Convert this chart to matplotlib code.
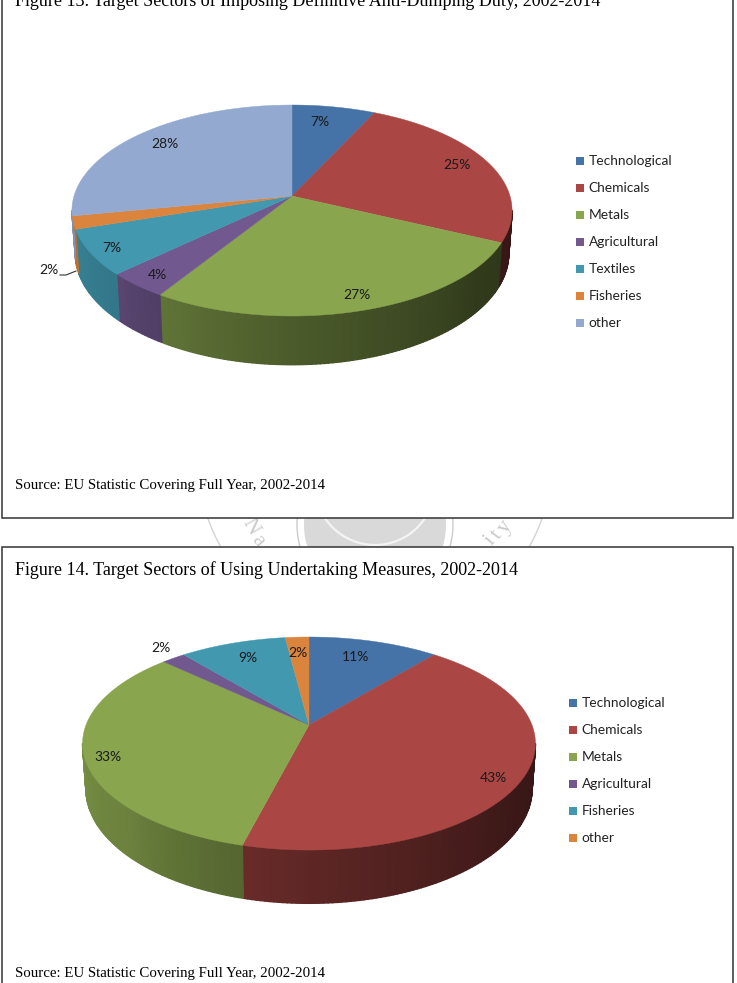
import numpy as np
import matplotlib
matplotlib.use('Agg')
import matplotlib.pyplot as plt
from matplotlib.patches import Rectangle, Polygon, Circle
from matplotlib.colors import to_rgb

# --- data ---
sectors_13 = ['Technological', 'Chemicals', 'Metals', 'Agricultural', 'Textiles', 'Fisheries', 'other']
values_13 = [7, 25, 27, 4, 7, 2, 28]
colors_13 = ['#4572A7', '#AA4643', '#89A54E', '#71588F', '#4198AF', '#DB843D', '#93A9CF']

sectors_14 = ['Technological', 'Chemicals', 'Metals', 'Agricultural', 'Fisheries', 'other']
values_14 = [11, 43, 33, 2, 9, 2]
colors_14 = ['#4572A7', '#AA4643', '#89A54E', '#71588F', '#4198AF', '#DB843D']

title_13 = 'Figure 13. Target Sectors of Imposing Definitive Anti-Dumping Duty, 2002-2014'
title_14 = 'Figure 14. Target Sectors of Using Undertaking Measures, 2002-2014'
source_text = 'Source: EU Statistic Covering Full Year, 2002-2014'

SERIF = 'Liberation Serif'
SANS = 'Lato'
W, H = 737, 983

fig = plt.figure(figsize=(W / 100, H / 100), dpi=100)
ax = fig.add_axes((0, 0, 1, 1))
ax.set_xlim(0, W)
ax.set_ylim(H, 0)
ax.axis('off')


def project(t, cx, cy, a, b, k, drop=0.0, narrow=1.0):
    # perspective view of a tilted disc, t clockwise from 12 o'clock
    s = 1.0 / (1.0 + k * np.cos(t))
    return cx + narrow * a * np.sin(t) * s, cy - b * np.cos(t) * s + drop * s


def wall_shade(t):
    # side wall gets darker toward the right hand side
    deg = np.degrees(t) % 360
    return np.interp(deg, [90, 130, 180, 212, 225, 270], [0.30, 0.36, 0.55, 0.70, 0.78, 0.88])


def draw_pie(values, colors, cx, cy, a, b, k, depth):
    cum = np.concatenate([[0], np.cumsum(values)]) / np.sum(values) * 2 * np.pi
    # the wall is only visible between the two tangent points of the disc
    t_right = np.arccos(-k)
    t_left = 2 * np.pi - t_right
    for i, col in enumerate(colors):
        lo, hi = max(cum[i], t_right), min(cum[i + 1], t_left)
        if hi <= lo:
            continue
        ts = np.linspace(lo, hi, max(2, int((hi - lo) * 60)))
        for t0, t1 in zip(ts[:-1], ts[1:]):
            x0, y0 = project(t0, cx, cy, a, b, k)
            x1, y1 = project(t1, cx, cy, a, b, k)
            x2, y2 = project(t1, cx, cy, a, b, k, depth, 0.985)
            x3, y3 = project(t0, cx, cy, a, b, k, depth, 0.985)
            shade = wall_shade((t0 + t1) / 2)
            c = tuple(v * shade for v in to_rgb(col))
            ax.add_patch(Polygon([(x0, y0), (x1, y1), (x2, y2), (x3, y3)],
                                 facecolor=c, edgecolor=c, linewidth=1.0, zorder=3))
    # top face
    for i, col in enumerate(colors):
        ts = np.linspace(cum[i], cum[i + 1], 80)
        x, y = project(ts, cx, cy, a, b, k)
        pts = np.column_stack([np.r_[cx, x], np.r_[cy, y]])
        ax.add_patch(Polygon(pts, facecolor=col, edgecolor=col, linewidth=0.3, zorder=4))


def draw_legend(names, colors, x, y, step):
    for i, (name, col) in enumerate(zip(names, colors)):
        yy = y + i * step
        ax.add_patch(Rectangle((x, yy - 4), 8, 8, facecolor=col, edgecolor='none', zorder=5))
        ax.text(x + 12.5, yy, name, family=SANS, fontsize=9.9, color='#222222',
                va='center', ha='left', zorder=5)


def pct(x, y, value):
    ax.text(x, y, f'{value}%', family=SANS, fontsize=10, color='#1a1a1a',
            ha='center', va='center', zorder=6)


# watermark seal showing in the gap between the two boxes
ax.add_patch(Circle((375, 460), 177, facecolor='none', edgecolor='#d4d4d4', linewidth=1.0, zorder=1))
ax.add_patch(Circle((375, 525), 78, facecolor='none', edgecolor='#cccccc', linewidth=1.0, zorder=1))
ax.add_patch(Circle((375, 525), 71, facecolor='#d9d9d9', edgecolor='none', zorder=1))
ax.add_patch(Circle((375, 485), 60, facecolor='#d9d9d9', edgecolor='#f4f4f4', linewidth=1.6, zorder=1))
for letter, x, y, rot in [('N', 250, 527, -60), ('a', 258, 541, -50),
                          ('i', 490, 541, 50), ('t', 497, 535, 52), ('y', 505, 527, 55)]:
    ax.text(x, y, letter, family=SERIF, fontsize=16, color='#cacaca', rotation=rot,
            ha='center', va='center', zorder=1)

# the two figure frames run off the page at top and bottom
for x0, y0, y1 in [(2.5, -20, 518), (2.5, 547, 1010)]:
    ax.add_patch(Rectangle((x0, y0), 730.5, y1 - y0, facecolor='white',
                           edgecolor='#333333', linewidth=1.1, zorder=2))

# Figure 13
ax.text(15, 6, title_13, family=SERIF, fontsize=13.0, color='black', va='baseline', zorder=6)
draw_pie(values_13, colors_13, 292, 196, 218, 103.5, 0.1375, 42)
for (x, y), v in zip([(320, 122), (457, 165), (357, 295), (157, 275),
                      (112, 248), (49, 270), (165, 144)], values_13):
    pct(x, y, v)
ax.plot([60, 66, 76], [275, 275, 271], color='#333333', linewidth=0.8, zorder=6)
draw_legend(sectors_13, colors_13, 576, 161, 27)
ax.text(15, 489, source_text, family=SERIF, fontsize=10.7, color='black', zorder=6)

# Figure 14
ax.text(15, 575, title_14, family=SERIF, fontsize=13.0, color='black', zorder=6)
draw_pie(values_14, colors_14, 309, 725, 223, 103.3, 0.174, 44)
for (x, y), v in zip([(356, 657), (493, 778), (108, 757), (161, 648),
                      (248, 658), (298, 653)], values_14):
    pct(x, y, v)
draw_legend(sectors_14, colors_14, 569, 703, 27)
ax.text(15, 977, source_text, family=SERIF, fontsize=10.7, color='black', zorder=6)

fig.savefig('out.png', dpi=100)
